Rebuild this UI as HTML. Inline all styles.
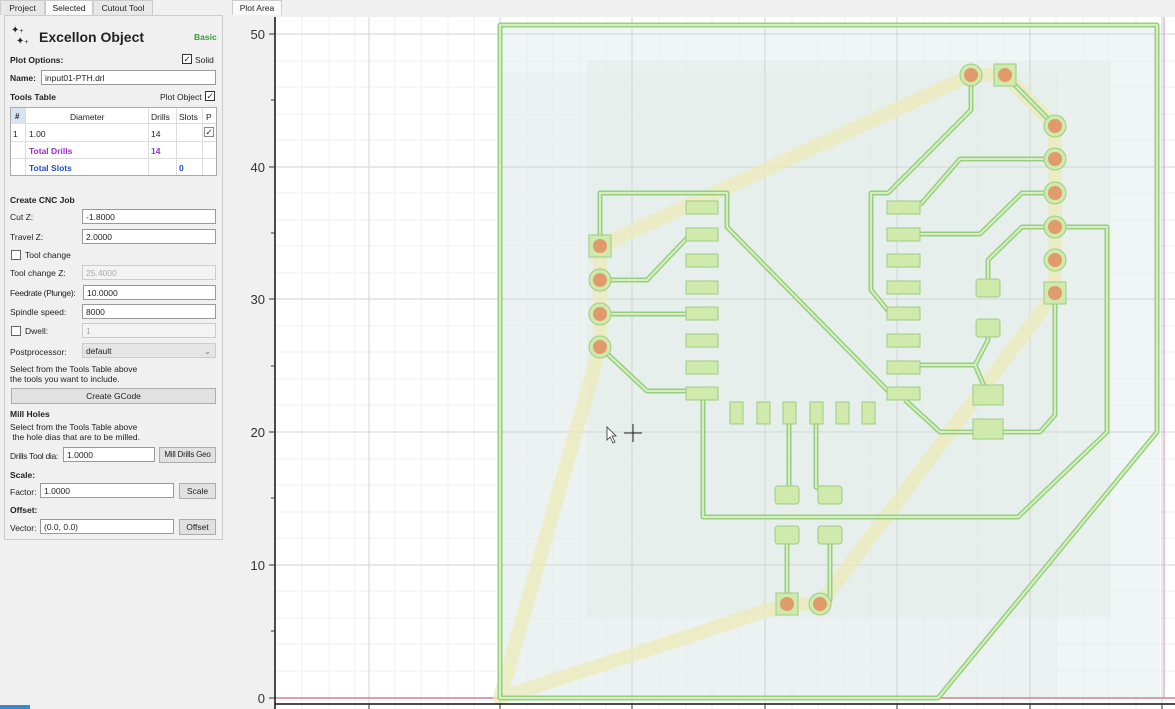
<!DOCTYPE html>
<html><head><meta charset="utf-8"><style>
*{box-sizing:border-box;margin:0;padding:0}
body{width:1175px;height:709px;overflow:hidden;background:#f0f0f0;font-family:"Liberation Sans",sans-serif;font-size:8.5px;color:#222;position:relative}
.a{position:absolute;white-space:nowrap}
.b{font-weight:bold}
.in{position:absolute;background:#fff;border:1px solid #999;height:15px;padding:1px 3px;font-size:8.5px;line-height:12px;white-space:nowrap}
.dis{background:#f3f3f3;color:#aaa;border-color:#ccc}
.btn{position:absolute;background:#e1e1e1;border:1px solid #adadad;height:16px;text-align:center;line-height:14px;font-size:8.5px;white-space:nowrap;overflow:hidden}
.cb{position:absolute;width:10px;height:10px;border:1px solid #333;background:#fff;font-size:8.5px;line-height:8px;text-align:center}
.tab{position:absolute;top:0;height:15px;line-height:15px;text-align:center;border:1px solid #ccc;border-bottom:none;background:#e8e8e8;font-size:8.5px}
</style></head><body>
<div class="tab" style="left:0;width:45px">Project</div>
<div class="tab" style="left:45px;width:48px;background:#fafafa">Selected</div>
<div class="tab" style="left:93px;width:60px">Cutout Tool</div>
<div class="a" style="left:4px;top:15px;width:219px;height:525px;border:1px solid #ccc;background:#f0f0f0"></div>
<div class="a" style="left:11px;top:26px;font-size:10px;line-height:10px">✦<span style="font-size:7px">+</span><br><span style="margin-left:5px">✦</span><span style="font-size:7px">+</span></div>
<div class="a b" style="left:39px;top:29px;font-size:14px">Excellon Object</div>
<div class="a b" style="left:194px;top:32px;color:#3a9a3a">Basic</div>
<div class="a b" style="left:10px;top:55px">Plot Options:</div>
<div class="cb" style="left:182px;top:54px">✓</div><div class="a" style="left:195px;top:55px">Solid</div>
<div class="a b" style="left:10px;top:73px">Name:</div>
<div class="in" style="left:41px;top:70px;width:175px">input01-PTH.drl</div>
<div class="a b" style="left:10px;top:92px">Tools Table</div>
<div class="a" style="left:160px;top:92px">Plot Object</div><div class="cb" style="left:205px;top:91px">✓</div>
<div class="a" style="left:10px;top:107px;width:207px;height:69px;background:#fff;border:1px solid #aaa"></div>
<div class="a" style="left:11px;top:108px;width:14px;height:16px;background:#d8e4f0"></div>
<div class="a" style="left:25px;top:108px;width:191px;height:16px;background:#fff;border-bottom:1px solid #ddd"></div>
<div class="a" style="left:25px;top:108px;width:1px;height:67px;background:#ddd"></div>
<div class="a" style="left:148px;top:108px;width:1px;height:67px;background:#ddd"></div>
<div class="a" style="left:176px;top:108px;width:1px;height:67px;background:#ddd"></div>
<div class="a" style="left:202px;top:108px;width:1px;height:67px;background:#ddd"></div>
<div class="a" style="left:11px;top:141px;width:205px;height:1px;background:#ddd"></div>
<div class="a" style="left:11px;top:158px;width:205px;height:1px;background:#ddd"></div>
<div class="a b" style="left:15px;top:112px;font-size:8px">#</div>
<div class="a" style="left:70px;top:112px">Diameter</div>
<div class="a" style="left:151px;top:112px">Drills</div>
<div class="a" style="left:179px;top:112px">Slots</div>
<div class="a" style="left:206px;top:112px">P</div>
<div class="a" style="left:13px;top:129px">1</div><div class="a" style="left:29px;top:129px">1.00</div><div class="a" style="left:151px;top:129px">14</div>
<div class="cb" style="left:204px;top:127px;border-color:#888">✓</div>
<div class="a b" style="left:29px;top:146px;color:#9b30d0">Total Drills</div><div class="a b" style="left:151px;top:146px;color:#9b30d0">14</div>
<div class="a b" style="left:29px;top:163px;color:#2050d0">Total Slots</div><div class="a b" style="left:179px;top:163px;color:#2050d0">0</div>
<div class="a b" style="left:10px;top:195px">Create CNC Job</div>
<div class="a" style="left:10px;top:212px">Cut Z:</div><div class="in" style="left:82px;top:209px;width:134px">-1.8000</div>
<div class="a" style="left:10px;top:232px">Travel Z:</div><div class="in" style="left:82px;top:229px;width:134px">2.0000</div>
<div class="cb" style="left:11px;top:250px;border-color:#666"></div><div class="a" style="left:25px;top:250px">Tool change</div>
<div class="a" style="left:10px;top:268px">Tool change Z:</div><div class="in dis" style="left:82px;top:265px;width:134px">25.4000</div>
<div class="a" style="left:10px;top:288px;letter-spacing:-0.3px">Feedrate (Plunge):</div><div class="in" style="left:83px;top:285px;width:133px">10.0000</div>
<div class="a" style="left:10px;top:307px">Spindle speed:</div><div class="in" style="left:82px;top:304px;width:134px">8000</div>
<div class="cb" style="left:11px;top:326px;border-color:#666"></div><div class="a" style="left:25px;top:326px">Dwell:</div><div class="in dis" style="left:82px;top:323px;width:134px">1</div>
<div class="a" style="left:10px;top:347px">Postprocessor:</div><div class="in" style="left:82px;top:343px;width:134px;background:#e5e5e5;border-color:#ccc">default<span style="position:absolute;right:4px;color:#777">⌄</span></div>
<div class="a" style="left:10px;top:364px;line-height:10px">Select from the Tools Table above<br>the tools you want to include.</div>
<div class="btn" style="left:11px;top:388px;width:205px">Create GCode</div>
<div class="a b" style="left:10px;top:409px">Mill Holes</div>
<div class="a" style="left:10px;top:422px;line-height:10px">Select from the Tools Table above<br>&nbsp;the hole dias that are to be milled.</div>
<div class="a" style="left:10px;top:451px;letter-spacing:-0.3px">Drills Tool dia:</div><div class="in" style="left:63px;top:447px;width:92px">1.0000</div>
<div class="btn" style="left:159px;top:447px;width:57px;font-size:8px;letter-spacing:-0.2px">Mill Drills Geo</div>
<div class="a b" style="left:10px;top:470px">Scale:</div>
<div class="a" style="left:10px;top:487px">Factor:</div><div class="in" style="left:40px;top:483px;width:134px">1.0000</div>
<div class="btn" style="left:179px;top:483px;width:37px">Scale</div>
<div class="a b" style="left:10px;top:505px">Offset:</div>
<div class="a" style="left:10px;top:523px">Vector:</div><div class="in" style="left:40px;top:519px;width:134px">(0.0, 0.0)</div>
<div class="btn" style="left:179px;top:519px;width:37px">Offset</div>
<div class="a" style="left:0;top:705px;width:30px;height:4px;background:#3a8ad0"></div>

<div class="tab" style="left:232px;width:50px;background:#fafafa">Plot Area</div>
<svg class="a" style="left:232px;top:15px" width="943" height="694" viewBox="232 15 943 694">
<rect x="232" y="15" width="943" height="694" fill="#f0f0f0"/>
<rect x="275" y="17" width="900" height="692" fill="#fff"/>
<g stroke="#f1f1f1" stroke-width="1">
<path d="M302 17V709M329 17V709M355 17V709M395 17V709M421 17V709M448 17V709M474 17V709M527 17V709M553 17V709M580 17V709M606 17V709M659 17V709M686 17V709M712 17V709M739 17V709M792 17V709M818 17V709M845 17V709M871 17V709M924 17V709M950 17V709M977 17V709M1003 17V709M1056 17V709M1083 17V709M1109 17V709M1136 17V709"/>
<path d="M275 61H1175M275 87H1175M275 114H1175M275 140H1175M275 193H1175M275 220H1175M275 246H1175M275 273H1175M275 326H1175M275 352H1175M275 379H1175M275 405H1175M275 459H1175M275 485H1175M275 512H1175M275 538H1175M275 591H1175M275 618H1175M275 644H1175M275 671H1175"/>
</g>
<rect x="500" y="25" width="660" height="673" fill="#e6f0f0" opacity="0.6"/>
<rect x="588" y="62" width="522" height="554" fill="#e2ece8" opacity="0.45" stroke="#dbe6e2"/>
<rect x="500" y="73" width="557" height="625" fill="#e2ece8" opacity="0.35" stroke="#dbe6e2"/>
<g stroke="#d0d4d4" stroke-width="1">
<path d="M369 17V709M500 17V709M632 17V709M765 17V709M897 17V709M1030 17V709M1162 17V709"/>
<path d="M275 34H1175M275 167H1175M275 299H1175M275 432H1175M275 565H1175"/>
</g>
<path d="M275 698H1175" stroke="#d08090" stroke-width="1.5"/>
<path d="M1164 17V698" stroke="#d890c0" stroke-width="1"/>
<path d="M500 698 L600 347 L600 246 L971 75 L1005 75 L1055 126 L1055 293 L820 604 L787 604 Z" fill="none" stroke="#ecebb8" stroke-width="14" stroke-linejoin="round" opacity="0.75"/>
<g fill="none" stroke-linejoin="round">
<g stroke="#96d07e" stroke-width="5">
<path d="M500 75V25H1157V432L938 698H500Z"/>
<path d="M600 246V193H727V227L890 393M600 280H647L688 237M600 314H686M600 347L647 391H686M703 393V517H1018L1107 432V227H1055M971 75V110L888 193H871V290L890 313M1055 159H960L920 205M1055 193H1022L980 234H920M1055 227H1022L988 260V288M988 328V340L975 365H920M975 365L988 395M905 400L940 432H1040L1055 415V293M789 424V495M816 424V487L830 495M787 535V604M830 535V600L820 604M1005 75L1055 126"/>
</g>
<g stroke="#d8eec2" stroke-width="2">
<path d="M500 75V25H1157V432L938 698H500Z"/>
<path d="M600 246V193H727V227L890 393M600 280H647L688 237M600 314H686M600 347L647 391H686M703 393V517H1018L1107 432V227H1055M971 75V110L888 193H871V290L890 313M1055 159H960L920 205M1055 193H1022L980 234H920M1055 227H1022L988 260V288M988 328V340L975 365H920M975 365L988 395M905 400L940 432H1040L1055 415V293M789 424V495M816 424V487L830 495M787 535V604M830 535V600L820 604M1005 75L1055 126"/>
</g>
</g>
<g fill="#cfeaaa" stroke="#9ccc86" stroke-width="1">
<rect x="686" y="201" width="32" height="13"/><rect x="686" y="228" width="32" height="13"/><rect x="686" y="254" width="32" height="13"/><rect x="686" y="281" width="32" height="13"/><rect x="686" y="307" width="32" height="13"/><rect x="686" y="334" width="32" height="13"/><rect x="686" y="361" width="32" height="13"/><rect x="686" y="387" width="32" height="13"/>
<rect x="887" y="201" width="33" height="13"/><rect x="887" y="228" width="33" height="13"/><rect x="887" y="254" width="33" height="13"/><rect x="887" y="281" width="33" height="13"/><rect x="887" y="307" width="33" height="13"/><rect x="887" y="334" width="33" height="13"/><rect x="887" y="361" width="33" height="13"/><rect x="887" y="387" width="33" height="13"/>
<rect x="730" y="402" width="13" height="22"/><rect x="757" y="402" width="13" height="22"/><rect x="783" y="402" width="13" height="22"/><rect x="810" y="402" width="13" height="22"/><rect x="836" y="402" width="13" height="22"/><rect x="862" y="402" width="13" height="22"/>
<rect x="775" y="486" width="24" height="18" rx="3"/><rect x="818" y="486" width="24" height="18" rx="3"/>
<rect x="775" y="526" width="24" height="18" rx="3"/><rect x="818" y="526" width="24" height="18" rx="3"/>
<rect x="976" y="279" width="24" height="18" rx="3"/><rect x="976" y="319" width="24" height="18" rx="3"/>
<rect x="973" y="385" width="30" height="20"/><rect x="973" y="419" width="30" height="20"/>
<rect x="589" y="235" width="22" height="22"/><rect x="994" y="64" width="22" height="22"/><rect x="1044" y="282" width="22" height="22"/><rect x="776" y="593" width="22" height="22"/>
<circle cx="600" cy="280" r="11"/><circle cx="600" cy="314" r="11"/><circle cx="600" cy="347" r="11"/><circle cx="971" cy="75" r="11"/><circle cx="1055" cy="126" r="11"/><circle cx="1055" cy="159" r="11"/><circle cx="1055" cy="193" r="11"/><circle cx="1055" cy="227" r="11"/><circle cx="1055" cy="260" r="11"/><circle cx="820" cy="604" r="11"/>
</g>
<g fill="#e09a6c">
<circle cx="600" cy="246" r="7"/><circle cx="600" cy="280" r="7"/><circle cx="600" cy="314" r="7"/><circle cx="600" cy="347" r="7"/><circle cx="971" cy="75" r="7"/><circle cx="1005" cy="75" r="7"/><circle cx="1055" cy="126" r="7"/><circle cx="1055" cy="159" r="7"/><circle cx="1055" cy="193" r="7"/><circle cx="1055" cy="227" r="7"/><circle cx="1055" cy="260" r="7"/><circle cx="1055" cy="293" r="7"/><circle cx="787" cy="604" r="7"/><circle cx="820" cy="604" r="7"/>
</g>
<path d="M624 433H642M633 424V442" stroke="#222" stroke-width="1"/>
<path d="M607 427V440L610 437L613 443L615 442L612 436H616Z" fill="#fff" stroke="#333" stroke-width="0.8"/>
<path d="M275 17V709M275 704H1175" stroke="#111" stroke-width="1.5"/>
<g stroke="#333"><path d="M269 34H275M269 167H275M269 299H275M269 432H275M269 565H275M269 698H275M271 100H275M271 233H275M271 366H275M271 498H275M271 631H275M369 704V709M500 704V709M632 704V709M765 704V709M897 704V709M1030 704V709M1162 704V709"/></g>
<g font-family="Liberation Sans, sans-serif" font-size="13" fill="#333" text-anchor="end">
<text x="265" y="39">50</text><text x="265" y="172">40</text><text x="265" y="304">30</text><text x="265" y="437">20</text><text x="265" y="570">10</text><text x="265" y="703">0</text>
</g>
</svg>
</body></html>
